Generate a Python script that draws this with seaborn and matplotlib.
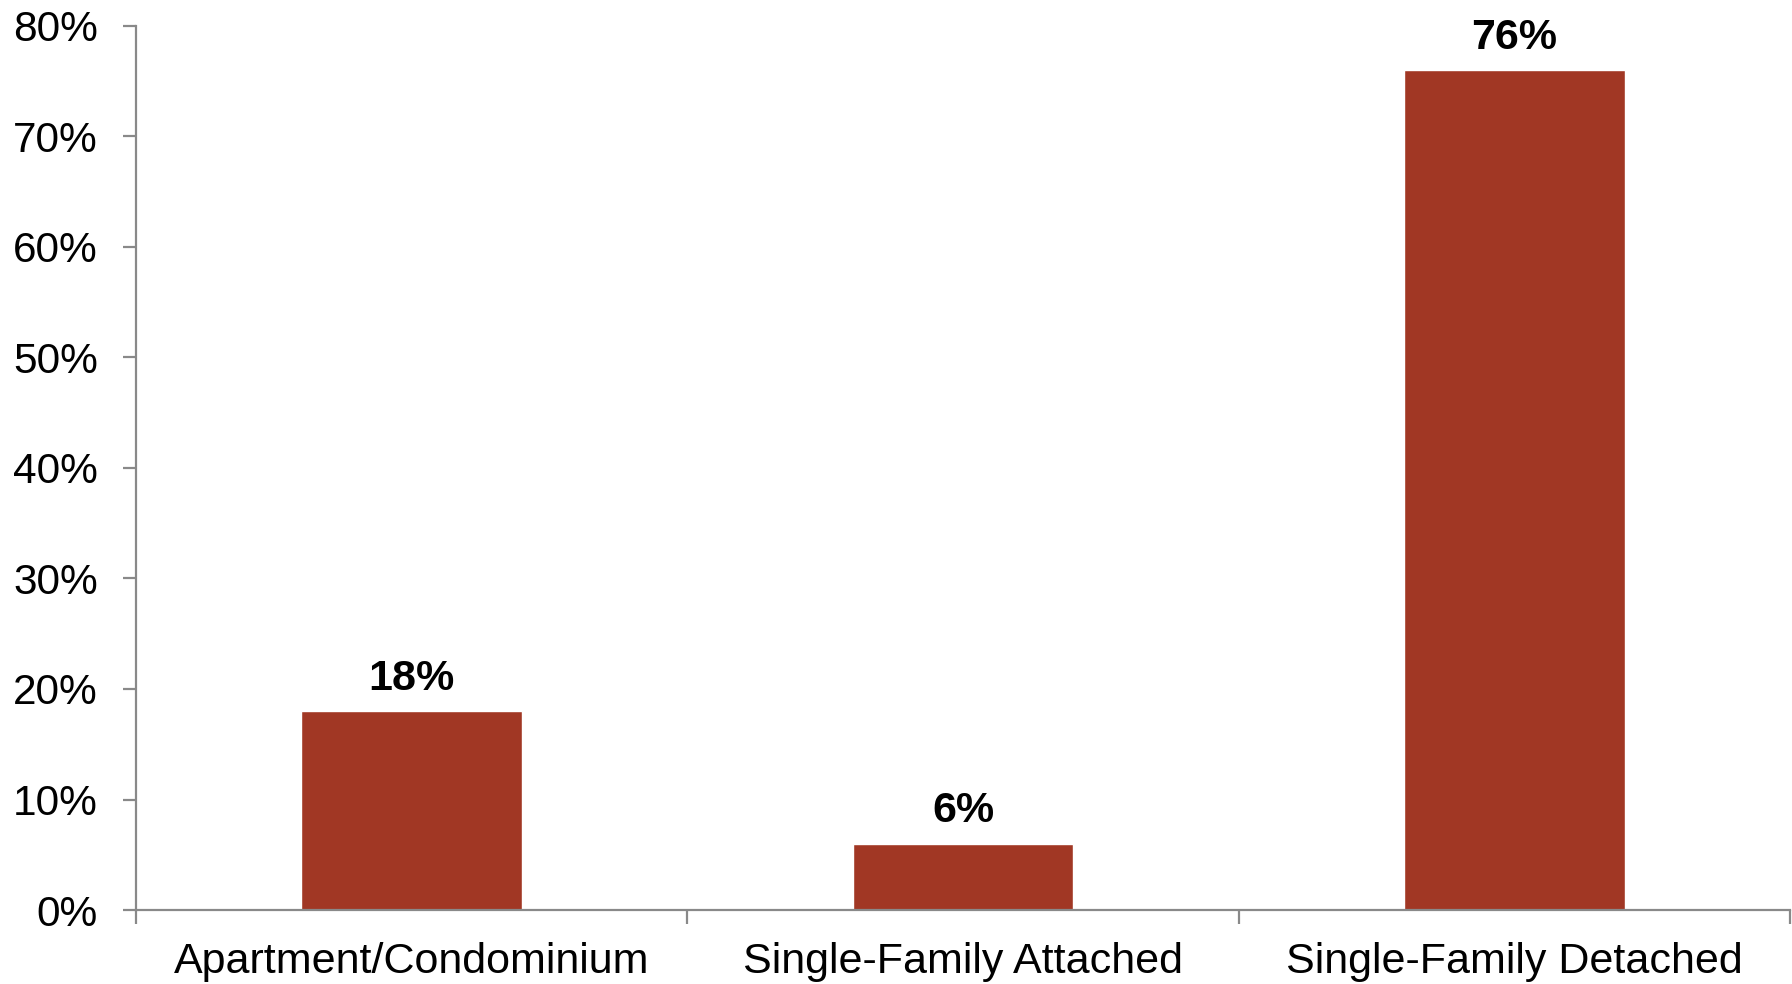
import matplotlib
matplotlib.use("Agg")
import matplotlib.pyplot as plt
from matplotlib.ticker import FixedLocator, PercentFormatter
import seaborn as sns
import pandas as pd

categories = ["Apartment/Condominium", "Single-Family Attached", "Single-Family Detached"]
shares = [18, 6, 76]
labels = ["18%", "6%", "76%"]
y_ticks = [0, 10, 20, 30, 40, 50, 60, 70, 80]

sns.set_theme(style="white")
plt.rcParams["font.family"] = ["Liberation Sans", "DejaVu Sans"]

bar_color = "#A13724"
axis_gray = "#898989"

df = pd.DataFrame({"type": categories, "share": shares})

fig = plt.figure(figsize=(17.92, 9.84), dpi=100)
ax = fig.add_axes([0.0759, 0.0752, 0.9231, 0.8984])

sns.barplot(data=df, x="type", y="share", color=bar_color, width=0.4,
            saturation=1, ax=ax)

ax.set_xlim(-0.5, 2.5)
ax.set_ylim(0, 80)
ax.set_yticks(y_ticks)
ax.yaxis.set_major_formatter(PercentFormatter(decimals=0))
ax.set_xlabel("")
ax.set_ylabel("")

for side in ("top", "right"):
    ax.spines[side].set_visible(False)
for side in ("left", "bottom"):
    ax.spines[side].set_color(axis_gray)
    ax.spines[side].set_linewidth(1.6)

ax.tick_params(axis="y", which="major", direction="out", length=9.5, width=1.6,
               color=axis_gray, labelsize=30.5, pad=18, labelcolor="black", left=True)
ax.tick_params(axis="x", which="major", length=0, labelsize=31, pad=23,
               labelcolor="black")
ax.xaxis.set_minor_locator(FixedLocator([-0.5, 0.5, 1.5, 2.5]))
ax.tick_params(axis="x", which="minor", direction="out", length=10, width=1.6,
               color=axis_gray, bottom=True)

for patch, txt in zip(ax.patches, labels):
    ax.annotate(txt, (patch.get_x() + patch.get_width() / 2, patch.get_height()),
                xytext=(0, 9), textcoords="offset points", ha="center", va="bottom",
                fontsize=31, fontweight="bold", color="black")

fig.savefig("out.png", dpi=100, facecolor="white")
